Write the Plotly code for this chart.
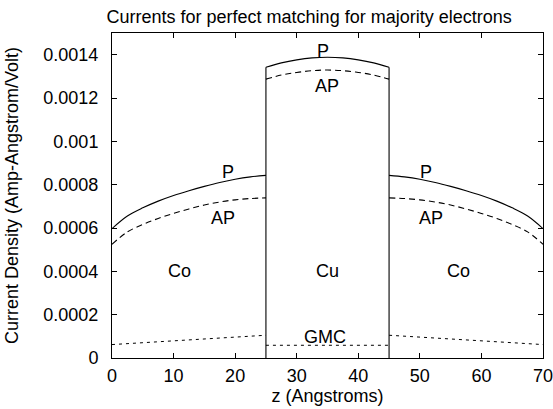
import plotly.graph_objects as go

# Co layer (left) current density vs z, A*Angstrom/V
z_co_left = [0, 2.5, 5, 7.5, 10, 12.5, 15, 17.5, 20, 22.5, 25]
p_co_left = [0.000597, 0.000655, 0.000693, 0.000724, 0.000750, 0.000772,
             0.000792, 0.000810, 0.000825, 0.000836, 0.000843]
ap_co_left = [0.000525, 0.000582, 0.000616, 0.000644, 0.000667, 0.000688,
              0.000706, 0.000720, 0.000730, 0.000736, 0.000739]
gmc_co_left = [0.000062, 0.000066, 0.000071, 0.000075, 0.000080, 0.000084,
               0.000089, 0.000093, 0.000097, 0.000101, 0.000105]

# Cu spacer (centre)
z_cu = [25, 27.5, 30, 32.5, 35, 37.5, 40, 42.5, 45]
p_cu = [0.001342, 0.001362, 0.001376, 0.001385, 0.001388, 0.001385,
        0.001376, 0.001362, 0.001342]
ap_cu = [0.001287, 0.001306, 0.001318, 0.001326, 0.001329, 0.001326,
         0.001318, 0.001306, 0.001287]
gmc_cu = [0.0000587] * len(z_cu)

# Co layer (right) mirrors the left one
z_co_right = [45, 47.5, 50, 52.5, 55, 57.5, 60, 62.5, 65, 67.5, 70]
p_co_right = p_co_left[::-1]
ap_co_right = ap_co_left[::-1]
gmc_co_right = gmc_co_left[::-1]

# interfaces
z_interfaces = [25, 45]

x_ticks = [0, 10, 20, 30, 40, 50, 60, 70]
y_ticks = [0, 0.0002, 0.0004, 0.0006, 0.0008, 0.001, 0.0012, 0.0014]
y_tick_text = ["0", "0.0002", "0.0004", "0.0006", "0.0008", "0.001", "0.0012", "0.0014"]

FONT = "Liberation Sans, Arial, Helvetica, sans-serif"
BLACK = "#000000"
FS = 18

fig = go.Figure()

segments = [(z_co_left, p_co_left, ap_co_left, gmc_co_left),
            (z_cu, p_cu, ap_cu, gmc_cu),
            (z_co_right, p_co_right, ap_co_right, gmc_co_right)]

for zs, p, ap, gmc in segments:
    fig.add_trace(go.Scatter(x=zs, y=p, mode="lines",
                             line=dict(color=BLACK, width=1.1, shape="spline"),
                             showlegend=False, hoverinfo="skip"))
    fig.add_trace(go.Scatter(x=zs, y=ap, mode="lines",
                             line=dict(color=BLACK, width=1.1, dash="6px,4px", shape="spline"),
                             showlegend=False, hoverinfo="skip"))
    fig.add_trace(go.Scatter(x=zs, y=gmc, mode="lines",
                             line=dict(color=BLACK, width=1.0, dash="3px,4px"),
                             showlegend=False, hoverinfo="skip"))

# interface walls from the axis up to the Cu-layer P current
for zi, top in zip(z_interfaces, [p_cu[0], p_cu[-1]]):
    fig.add_trace(go.Scatter(x=[zi, zi], y=[0, top], mode="lines",
                             line=dict(color=BLACK, width=1.1),
                             showlegend=False, hoverinfo="skip"))

labels = [
    (18.8, 0.000857, "P"), (18.0, 0.000644, "AP"),
    (51.0, 0.000857, "P"), (51.8, 0.000644, "AP"),
    (34.3, 0.001418, "P"), (34.9, 0.001255, "AP"),
    (11.0, 0.000403, "Co"), (35.0, 0.000403, "Cu"), (56.3, 0.000403, "Co"),
    (34.6, 0.000097, "GMC"),
]
for x, y, t in labels:
    fig.add_annotation(x=x, y=y, text=t, showarrow=False,
                       font=dict(family=FONT, size=FS, color=BLACK))

axis_common = dict(showline=True, linecolor=BLACK, linewidth=1, mirror="allticks",
                   ticks="inside", ticklen=5, tickcolor=BLACK, tickwidth=1,
                   showgrid=False, zeroline=False, automargin=False,
                   ticklabeloverflow="allow",
                   tickfont=dict(family=FONT, size=FS, color=BLACK))

fig.update_xaxes(range=[0, 70], tickvals=x_ticks,
                 title=dict(text="z (Angstroms)", font=dict(family=FONT, size=FS, color=BLACK),
                            standoff=0),
                 ticklabelstandoff=1, **axis_common)
fig.update_yaxes(range=[0, 0.0015], tickvals=y_ticks, ticktext=y_tick_text,
                 title=dict(text="Current Density (Amp-Angstrom/Volt)",
                            font=dict(family=FONT, size=18, color=BLACK), standoff=20),
                 ticklabelstandoff=9, **axis_common)

fig.update_layout(
    width=553, height=409,
    margin=dict(l=112, r=10, t=33, b=51),
    paper_bgcolor="white", plot_bgcolor="white",
    title=dict(text="Currents for perfect matching for majority electrons",
               font=dict(family=FONT, size=FS, color=BLACK),
               x=0.559, xanchor="center", y=0.96, yanchor="middle"),
)

fig.write_html("out.html")
